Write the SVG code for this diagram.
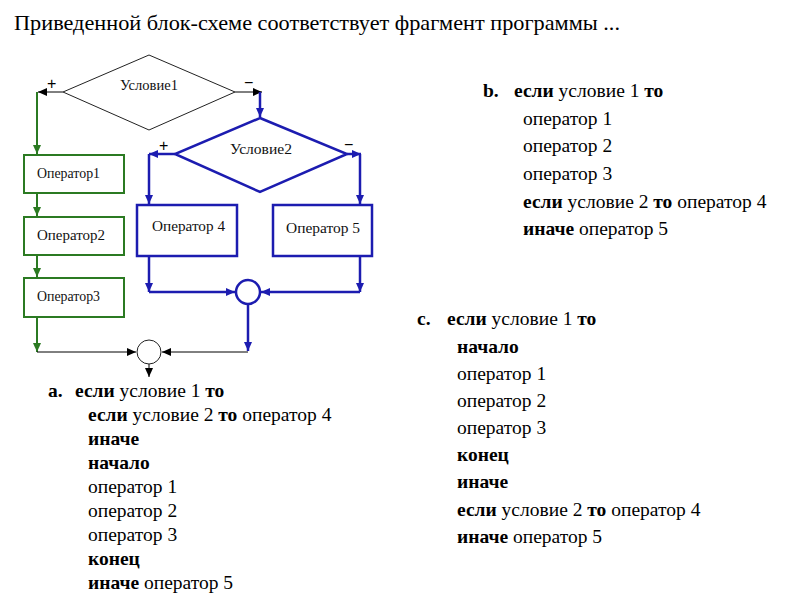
<svg xmlns="http://www.w3.org/2000/svg" width="800" height="600" viewBox="0 0 800 600">
<defs>
<style>
.g{stroke:#2b7a22;stroke-width:2;fill:none}
.b{stroke:#1c1cb0;stroke-width:2.5;fill:none}
.k{stroke:#000;stroke-width:1;fill:none}
.gbox{fill:#fff;stroke:#2b7a22;stroke-width:2}
.bbox{fill:#fff;stroke:#1c1cb0;stroke-width:2.5}
.kd{fill:#fff;stroke:#222;stroke-width:1}
.lab{font-family:"Times New Roman","Liberation Serif","DejaVu Serif",serif;font-size:14px;fill:#111}
.t{font-family:"Times New Roman","Liberation Serif","DejaVu Serif",serif;font-size:19.5px;fill:#000}
.ttl{font-family:"Times New Roman","Liberation Serif","DejaVu Serif",serif;font-size:21px;fill:#000}
.bd{font-weight:bold}
.sign{font-family:"Liberation Sans",sans-serif;font-size:16px;fill:#000}
</style>
<marker id="ag" markerUnits="userSpaceOnUse" markerWidth="10" markerHeight="10" refX="9" refY="5" orient="auto"><path d="M0,1 L9,5 L0,9 Z" fill="#2b7a22"/></marker>
<marker id="ab" markerUnits="userSpaceOnUse" markerWidth="10" markerHeight="10" refX="9" refY="5" orient="auto"><path d="M0,1 L9,5 L0,9 Z" fill="#1c1cb0"/></marker>
<marker id="ak" markerUnits="userSpaceOnUse" markerWidth="10" markerHeight="10" refX="9" refY="5" orient="auto"><path d="M0,1 L9,5 L0,9 Z" fill="#000"/></marker>
</defs>
<rect width="800" height="600" fill="#fff"/>
<text class="ttl" x="14" y="30" textLength="606" lengthAdjust="spacingAndGlyphs">Приведенной блок-схеме соответствует фрагмент программы ...</text>

<g id="connectors">
<path class="k" d="M63,92 H38" marker-end="url(#ak)"/>
<path class="g" d="M37,92 V154" marker-end="url(#ag)"/>
<path class="g" d="M37,193 V216" marker-end="url(#ag)"/>
<path class="g" d="M37,255 V277" marker-end="url(#ag)"/>
<path class="g" d="M37,317 V352" marker-end="url(#ag)"/>
<path class="k" d="M37,352 H136" marker-end="url(#ak)"/>
<path class="k" d="M149,364 V377" marker-end="url(#ak)"/>
<path class="k" d="M235,92 H262" marker-end="url(#ak)"/>
<path class="b" d="M260,92 V117" marker-end="url(#ab)"/>
<path class="b" d="M175,154 H149" marker-end="url(#ab)"/>
<path class="b" d="M149,154 V204" marker-end="url(#ab)"/>
<path class="b" d="M347,154 H361" marker-end="url(#ab)"/>
<path class="b" d="M360,154 V204" marker-end="url(#ab)"/>
<path class="b" d="M149,256 V292" marker-end="url(#ab)"/>
<path class="b" d="M149,292 H235" marker-end="url(#ab)"/>
<path class="b" d="M360,256 V292" marker-end="url(#ab)"/>
<path class="b" d="M360,292 H261" marker-end="url(#ab)"/>
<path class="b" d="M248,304 V351" marker-end="url(#ab)"/>
<path class="k" d="M248,352 H162" marker-end="url(#ak)"/>
<text class="sign" x="47" y="89">+</text>
<text class="sign" x="244" y="88">−</text>
<text class="sign" x="159" y="151">+</text>
<text class="sign" x="344" y="150">−</text>
</g>

<g id="cond1"><polygon class="kd" points="149,55 235,92 149,130 63,92"/><text class="lab" x="120" y="90" textLength="58" lengthAdjust="spacingAndGlyphs">Условие1</text></g>
<g id="cond2"><polygon class="bbox" points="260,118 347,154 260,192 175,154"/><text class="lab" x="230" y="154" textLength="62" lengthAdjust="spacingAndGlyphs">Условие2</text></g>
<g id="op1"><rect class="gbox" x="24" y="155" width="100" height="38"/><text class="lab" x="37" y="178" textLength="63" lengthAdjust="spacingAndGlyphs">Оператор1</text></g>
<g id="op2"><rect class="gbox" x="24" y="217" width="100" height="38"/><text class="lab" x="37" y="240" textLength="68" lengthAdjust="spacingAndGlyphs">Оператор2</text></g>
<g id="op3"><rect class="gbox" x="24" y="278" width="100" height="39"/><text class="lab" x="37" y="301" textLength="63" lengthAdjust="spacingAndGlyphs">Оператор3</text></g>
<g id="op4"><rect class="bbox" x="137" y="205" width="100" height="51"/><text class="lab" x="152" y="231" textLength="73" lengthAdjust="spacingAndGlyphs">Оператор 4</text></g>
<g id="op5"><rect class="bbox" x="273" y="205" width="99" height="51"/><text class="lab" x="286" y="233" textLength="74" lengthAdjust="spacingAndGlyphs">Оператор 5</text></g>
<g id="join2"><circle cx="248" cy="292" r="12" fill="#fff" stroke="#1c1cb0" stroke-width="2.5"/></g>
<g id="join1"><circle cx="149" cy="352" r="12" fill="#fff" stroke="#222" stroke-width="1"/></g>

<g id="answer-b" class="t">
<text x="483" y="97"><tspan class="bd">b.</tspan><tspan x="514" class="bd">если</tspan> условие 1 <tspan class="bd">то</tspan></text>
<text x="523" y="125">оператор 1</text>
<text x="523" y="152">оператор 2</text>
<text x="523" y="180">оператор 3</text>
<text x="523" y="208"><tspan class="bd">если</tspan> условие 2 <tspan class="bd">то</tspan> оператор 4</text>
<text x="523" y="235"><tspan class="bd">иначе</tspan> оператор 5</text>
</g>

<g id="answer-a" class="t">
<text x="48" y="397"><tspan class="bd">a.</tspan><tspan x="75" class="bd">если</tspan> условие 1 <tspan class="bd">то</tspan></text>
<text x="88" y="421"><tspan class="bd">если</tspan> условие 2 <tspan class="bd">то</tspan> оператор 4</text>
<text x="88" y="445" class="bd">иначе</text>
<text x="88" y="469" class="bd">начало</text>
<text x="88" y="493">оператор 1</text>
<text x="88" y="517">оператор 2</text>
<text x="88" y="541">оператор 3</text>
<text x="88" y="565" class="bd">конец</text>
<text x="88" y="589"><tspan class="bd">иначе</tspan> оператор 5</text>
</g>

<g id="answer-c" class="t">
<text x="417" y="325"><tspan class="bd">c.</tspan><tspan x="447" class="bd">если</tspan> условие 1 <tspan class="bd">то</tspan></text>
<text x="457" y="353" class="bd">начало</text>
<text x="457" y="380">оператор 1</text>
<text x="457" y="407">оператор 2</text>
<text x="457" y="434">оператор 3</text>
<text x="457" y="461" class="bd">конец</text>
<text x="457" y="488" class="bd">иначе</text>
<text x="457" y="516"><tspan class="bd">если</tspan> условие 2 <tspan class="bd">то</tspan> оператор 4</text>
<text x="457" y="543"><tspan class="bd">иначе</tspan> оператор 5</text>
</g>
</svg>
